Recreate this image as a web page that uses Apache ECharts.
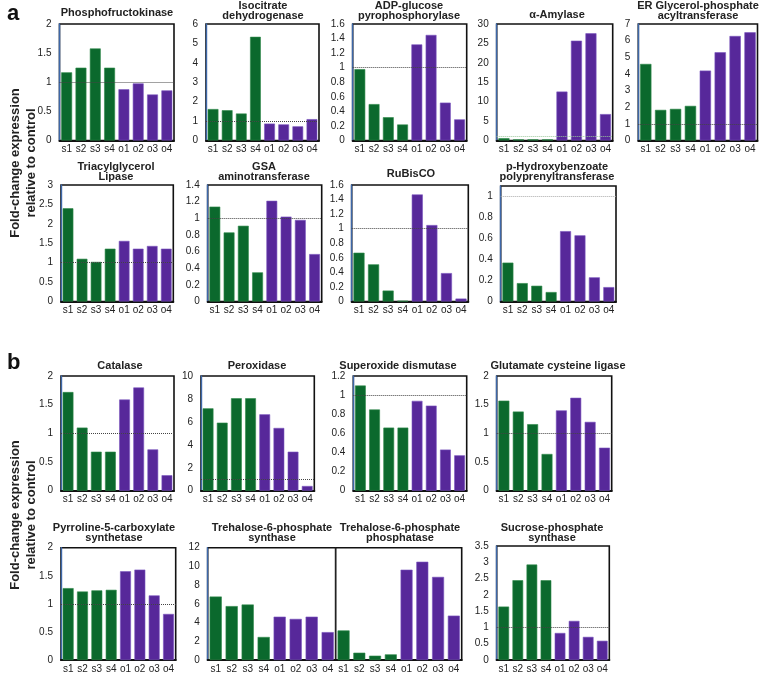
<!DOCTYPE html>
<html>
<head>
<meta charset="utf-8">
<script src="https://cdn.jsdelivr.net/npm/echarts@6/dist/echarts.min.js"></script>
<style>
html,body{margin:0;padding:0;background:#fff;}
#chart{width:760px;height:674px;}
</style>
</head>
<body>
<div id="chart"></div>
<script>
// ---------- DATA ----------
const categories = ['s1','s2','s3','s4','o1','o2','o3','o4'];

const phosphofructokinase = [1.17,1.25,1.58,1.25,0.88,0.98,0.79,0.86];
const isocitrateDehydrogenase = [1.62,1.56,1.39,5.34,0.87,0.83,0.73,1.1];
const adpGlucosePyrophosphorylase = [0.98,0.50,0.32,0.22,1.32,1.45,0.52,0.29];
const alphaAmylase = [0.6,0.3,0.3,0.3,12.6,25.7,27.6,6.8];
const erGlycerolPhosphateAcyltransferase = [4.6,1.84,1.9,2.08,4.2,5.3,6.28,6.5];
const triacylglycerolLipase = [2.40,1.10,1.02,1.36,1.56,1.36,1.43,1.36];
const gsaAminotransferase = [1.14,0.83,0.91,0.35,1.21,1.02,0.98,0.57];
const rubisco = [0.67,0.51,0.15,0.01,1.47,1.05,0.39,0.04];
const pHydroxybenzoatePolyprenyltransferase = [0.37,0.175,0.15,0.09,0.67,0.63,0.23,0.137];

const catalase = [1.72,1.10,0.68,0.68,1.59,1.80,0.72,0.27];
const peroxidase = [7.18,5.93,8.06,8.06,6.66,5.47,3.4,0.41];
const superoxideDismutase = [1.10,0.85,0.66,0.66,0.94,0.89,0.43,0.37];
const glutamateCysteineLigase = [1.57,1.38,1.16,0.64,1.40,1.62,1.20,0.75];
const pyrroline5CarboxylateSynthetase = [1.28,1.22,1.24,1.25,1.58,1.61,1.15,0.82];
const trehalose6PhosphateSynthase = [6.78,5.76,5.93,2.46,4.63,4.39,4.63,2.98];
const trehalose6PhosphatePhosphatase = [3.16,0.78,0.46,0.6,9.65,10.5,8.88,4.74];
const sucrosePhosphateSynthase = [1.64,2.45,2.93,2.45,0.83,1.2,0.71,0.59];

const panelTitles = [
  'Phosphofructokinase','Isocitrate\ndehydrogenase','ADP-glucose\npyrophosphorylase','α-Amylase','ER Glycerol-phosphate\nacyltransferase',
  'Triacylglycerol\nLipase','GSA\naminotransferase','RuBisCO','p-Hydroxybenzoate\npolyprenyltransferase',
  'Catalase','Peroxidase','Superoxide dismutase','Glutamate cysteine ligase',
  'Pyrroline-5-carboxylate\nsynthetase','Trehalose-6-phosphate\nsynthase','Trehalose-6-phosphate\nphosphatase','Sucrose-phosphate\nsynthase'
];
const referenceLevel = 1;

// ---------- LAYOUT ----------
const GREEN = '#0b692d', PURPLE = '#57289a';
const FONT = '"Liberation Sans", Arial, sans-serif';
const panels = [
  {d: phosphofructokinase, l:59.5, r:174, t:24, b:140.5, max:2, iv:0.5, tx:117, ty:8},
  {d: isocitrateDehydrogenase, l:206, r:319, t:24, b:140.5, max:6, iv:1, tx:263, ty:1},
  {d: adpGlucosePyrophosphorylase, l:352.7, r:466.7, t:24, b:140.5, max:1.6, iv:0.2, tx:409, ty:1},
  {d: alphaAmylase, l:496.7, r:612.7, t:24, b:140.5, max:30, iv:5, tx:557, ty:10, refColor:'#9cc89c'},
  {d: erGlycerolPhosphateAcyltransferase, l:638.3, r:757.5, t:24, b:140.5, max:7, iv:1, tx:698, ty:1},
  {d: triacylglycerolLipase, l:61, r:173.3, t:185, b:301.5, max:3, iv:0.5, tx:116, ty:162},
  {d: gsaAminotransferase, l:207.7, r:321.7, t:185, b:301.5, max:1.4, iv:0.2, tx:264, ty:162},
  {d: rubisco, l:351.7, r:468.3, t:185, b:301.5, max:1.6, iv:0.2, tx:411, ty:169},
  {d: pHydroxybenzoatePolyprenyltransferase, l:500.7, r:616, t:186, b:301.5, max:1.1, iv:0.2, tx:557, ty:162, hideMax:true, refColor:'#aaaaaa'},
  {d: catalase, l:61, r:174, t:376, b:490.7, max:2, iv:0.5, tx:120, ty:361},
  {d: peroxidase, l:201, r:314.3, t:376, b:490.7, max:10, iv:2, tx:257, ty:361},
  {d: superoxideDismutase, l:353.3, r:466.7, t:376, b:490.7, max:1.2, iv:0.2, tx:398, ty:361},
  {d: glutamateCysteineLigase, l:496.7, r:611.7, t:376, b:490.7, max:2, iv:0.5, tx:558, ty:361},
  {d: pyrroline5CarboxylateSynthetase, l:61, r:175.7, t:547.7, b:661.7, max:2, iv:0.5, tx:114, ty:523},
  {d: trehalose6PhosphateSynthase, l:207.7, r:335.7, t:547.7, b:661.7, max:12, iv:2, tx:272, ty:523, noRef:true},
  {d: trehalose6PhosphatePhosphatase, l:335.7, r:461.7, t:547.7, b:661.7, max:12, iv:2, tx:400, ty:523, noRef:true, noYLabel:true},
  {d: sucrosePhosphateSynthase, l:496.7, r:609.3, t:546, b:661.7, max:3.5, iv:0.5, tx:552, ty:523}
];

const grid = [], xAxis = [], yAxis = [], series = [], title = [];
panels.forEach((p, i) => {
  grid.push({left:p.l, top:p.t, width:p.r - p.l, height:p.b - p.t, show:true,
    borderColor:'#111', borderWidth:1.6, backgroundColor:'#fff', containLabel:false});
  xAxis.push({type:'category', gridIndex:i, data:categories,
    axisLine:{show:true, lineStyle:{color:'#111', width:2}},
    axisTick:{show:false},
    axisLabel:{interval:0, fontSize:10, color:'#222', fontFamily:FONT, margin:4}});
  yAxis.push({type:'value', gridIndex:i, min:0, max:p.max, interval:p.iv,
    splitLine:{show:false}, axisTick:{show:false},
    axisLine:{show:true, lineStyle:{color: p.noYLabel ? '#222' : '#3d67a8', width: p.noYLabel ? 1 : 1.4}},
    axisLabel:{show: !p.noYLabel, showMaxLabel: !p.hideMax, fontSize:10, color:'#222', fontFamily:FONT, margin:8}});
  const s = {type:'bar', xAxisIndex:i, yAxisIndex:i, barCategoryGap:'24%',
    data: p.d.map((v, k) => ({value:v, itemStyle:{color: k < 4 ? GREEN : PURPLE,
      borderColor: k < 4 ? '#2f8a4a' : '#7a55c0', borderWidth:0.6}})),
    silent:true};
  if (!p.noRef) {
    s.markLine = {silent:true, symbol:'none', label:{show:false},
      lineStyle:{type:'dotted', color: p.refColor || '#444', width:1},
      data:[{yAxis:referenceLevel}]};
  }
  series.push(s);
  title.push({text: panelTitles[i], left: p.tx, top: p.ty, textAlign:'center', padding:0,
    textStyle:{fontSize:11, fontWeight:'bold', color:'#222', fontFamily:FONT, lineHeight:10}});
});

const chart = echarts.init(document.getElementById('chart'), null, {renderer:'canvas'});
chart.setOption({
  animation:false,
  backgroundColor:'#fff',
  title, grid, xAxis, yAxis, series,
  graphic:[
    {type:'text', left:7, top:3, style:{text:'a', font:'bold 22px ' + FONT, fill:'#111'}},
    {type:'text', left:7, top:352, style:{text:'b', font:'bold 22px ' + FONT, fill:'#111'}},
    {type:'text', x:15, y:163, rotation:Math.PI/2, style:{text:'Fold-change expression', font:'bold 13px ' + FONT, fill:'#222', align:'center', verticalAlign:'middle'}},
    {type:'text', x:31, y:163, rotation:Math.PI/2, style:{text:'relative to control', font:'bold 13px ' + FONT, fill:'#222', align:'center', verticalAlign:'middle'}},
    {type:'text', x:15, y:515, rotation:Math.PI/2, style:{text:'Fold-change expression', font:'bold 13px ' + FONT, fill:'#222', align:'center', verticalAlign:'middle'}},
    {type:'text', x:31, y:515, rotation:Math.PI/2, style:{text:'relative to control', font:'bold 13px ' + FONT, fill:'#222', align:'center', verticalAlign:'middle'}}
  ]
});
</script>
</body>
</html>
